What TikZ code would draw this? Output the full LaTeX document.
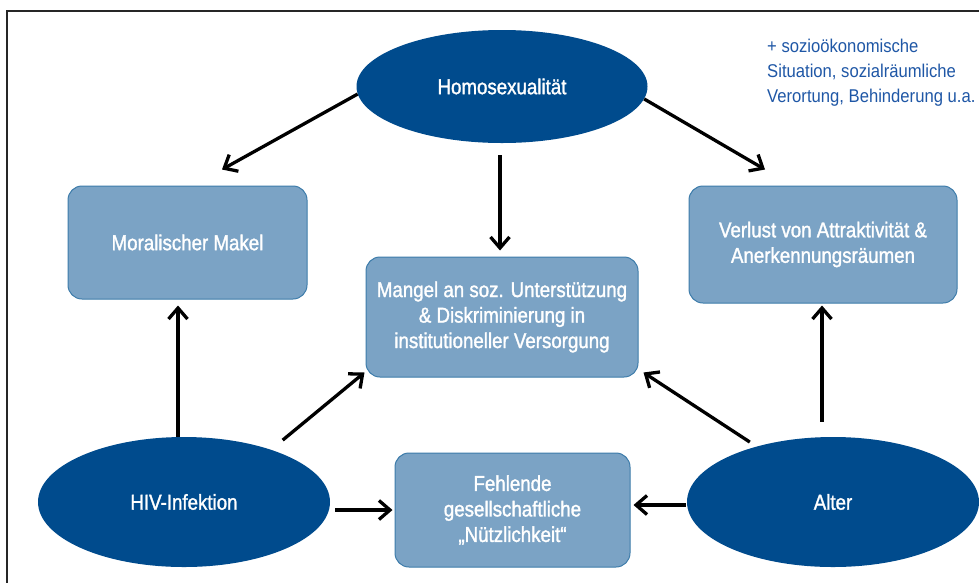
\documentclass[tikz,border=0pt]{standalone}
\usepackage{fontspec}
\setmainfont[FakeStretch=0.9]{Liberation Sans}
\newfontfamily\whitefont[FakeStretch=0.87,FakeBold=1.4]{Liberation Sans}
\usetikzlibrary{shapes.geometric,arrows.meta}
\definecolor{ellblue}{HTML}{004B8D}
\definecolor{boxfill}{HTML}{7BA3C5}
\definecolor{boxdraw}{HTML}{3D7CAA}
\definecolor{txtblue}{HTML}{1F57A6}
\begin{document}
\begin{tikzpicture}[x=1pt,y=-1pt,
  ell/.style={ellipse, fill=ellblue, text=white, font=\whitefont\fontsize{21.5}{25}\selectfont, inner sep=0pt},
  rbox/.style={rectangle, rounded corners=14pt, fill=boxfill, draw=boxdraw, line width=1pt, text=white, align=center, font=\whitefont\fontsize{21.5}{25.5}\selectfont, inner sep=0pt},
  arr/.style={-{Straight Barb[length=11pt,width=19pt]}, line width=3.3pt, black}]
\useasboundingbox (0,0) rectangle (979,582);
\clip (0,0) rectangle (979,582);
\fill[white] (0,0) rectangle (979,582);
\draw[line width=2pt, black!85] (7,11) rectangle (995,600);

\node[ell, minimum width=291pt, minimum height=113pt] (homo) at (502,86.5) {Homosexualität};
\node[ell, minimum width=292pt, minimum height=130pt] (hiv) at (184,502) {HIV-Infektion};
\node[ell, minimum width=292pt, minimum height=130pt] (alter) at (833,502) {Alter};

\node[rbox, minimum width=239pt, minimum height=113pt] (moral) at (187.5,242.5) {Moralischer Makel};
\node[rbox, minimum width=268pt, minimum height=117pt] (verlust) at (823,244.5) {Verlust von Attraktivität \&\\Anerkennungsräumen};
\node[rbox, minimum width=272pt, minimum height=120pt] (mangel) at (502,317) {Mangel an soz. Unterstützung\\\& Diskriminierung in\\institutioneller Versorgung};
\node[rbox, minimum width=235pt, minimum height=114pt] (fehl) at (512.5,510) {Fehlende\\gesellschaftliche\\„Nützlichkeit“};

\node[anchor=north west, inner sep=0pt, align=left, text=txtblue, font=\fontsize{18.5}{25}\selectfont] (note) at (767,39) {+ sozioökonomische\\Situation, sozialräumliche\\Verortung, Behinderung u.a.};

\draw[arr] (homo.183) -- ([xshift=34.5pt,yshift=16pt]moral.north);
\draw[arr] (homo.-5) -- ([xshift=-58pt,yshift=16pt]verlust.north);
\draw[arr, shorten <=12pt, shorten >=6pt] ([xshift=-2pt]homo.south) -- ([xshift=-2pt]mangel.north);
\draw[arr, shorten >=6pt] ([xshift=-6pt]hiv.north) -- ([xshift=-9.5pt]moral.south);
\draw[arr, shorten <=15pt] (hiv.31) -- ([xshift=-1pt,yshift=5pt]mangel.south west);
\draw[arr, shorten <=8pt] (alter.144) -- ([xshift=5pt,yshift=5pt]mangel.south east);
\draw[arr, shorten <=15pt, shorten >=2pt] ([xshift=-11pt]alter.north) -- ([xshift=-1pt]verlust.south);
\draw[arr, shorten <=5pt, shorten >=2pt] ([yshift=-8pt]hiv.east) -- (fehl.west);
\draw[arr, shorten <=1pt, shorten >=3pt] ([yshift=-3pt]alter.west) -- ([yshift=5pt]fehl.east);
\end{tikzpicture}
\end{document}
